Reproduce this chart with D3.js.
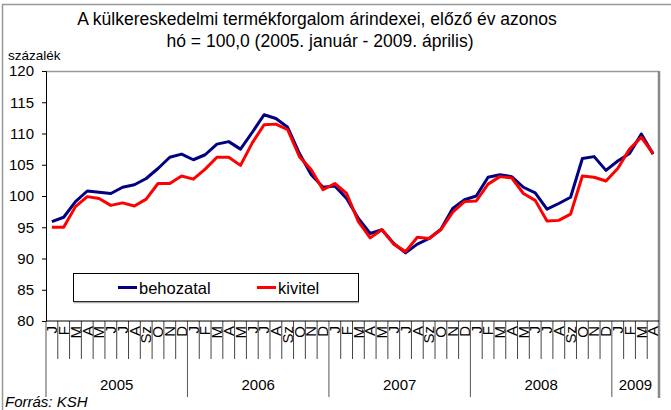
<!DOCTYPE html>
<html>
<head>
<meta charset="utf-8">
<script src="https://cdn.jsdelivr.net/npm/d3@7.9.0/dist/d3.min.js"></script>
<style>
  body { margin: 0; background: #fff; }
  svg { font-family: Arial, "Liberation Sans", sans-serif; }
</style>
</head>
<body>
<svg width="671" height="410"></svg>
<script>
// havi adatok, 2005. január - 2009. április
const years = ['2005', '2006', '2007', '2008', '2009'];
const monthLetters = ['J', 'F', 'M', 'Á', 'M', 'J', 'J', 'A', 'Sz', 'O', 'N', 'D'];
const behozatal = [
  95.9, 96.6, 99.1, 100.8, 100.6, 100.4, 101.4, 101.8, 102.8, 104.4, 106.2, 106.7,
  105.8, 106.6, 108.3, 108.7, 107.5, 110.2, 113.0, 112.4, 111.0, 106.8, 103.4, 101.4,
  101.6, 99.6, 96.4, 94.0, 94.6, 92.4, 90.9, 92.3, 93.2, 94.7, 98.0, 99.4,
  100.0, 103.0, 103.4, 103.1, 101.4, 100.5, 97.9, 98.8, 99.8, 106.0, 106.3, 104.1,
  105.6, 106.8, 109.9, 106.7
];
const kivitel = [
  95.0, 95.0, 98.3, 99.9, 99.6, 98.5, 98.9, 98.4, 99.5, 102.0, 102.0, 103.2,
  102.7, 104.3, 106.2, 106.2, 104.9, 108.5, 111.4, 111.5, 110.6, 106.3, 104.2, 101.0,
  102.0, 100.4, 95.9, 93.3, 94.6, 92.3, 91.1, 93.4, 93.2, 94.6, 97.4, 99.1,
  99.2, 101.9, 103.1, 102.9, 100.4, 99.3, 96.0, 96.1, 97.1, 103.2, 103.0, 102.4,
  104.4, 107.5, 109.4, 106.8
];
const yTicks = [80, 85, 90, 95, 100, 105, 110, 115, 120];

const svg = d3.select('svg');
const plotL = 46, plotR = 659, plotT = 71, plotB = 321;

const idx = d3.range(behozatal.length);
const x = d3.scaleBand().domain(idx).range([plotL, plotR]);
const y = d3.scaleLinear().domain([80, 120]).range([plotB, plotT]);

// külső keret
svg.append('rect')
  .attr('x', 2.5).attr('y', 4.5).attr('width', 700).attr('height', 450)
  .attr('fill', 'none').attr('stroke', '#999').attr('stroke-width', 1.5);

// cím
const title = svg.append('text')
  .attr('text-anchor', 'middle').attr('font-size', 17.5).attr('fill', '#000');
title.append('tspan').attr('x', 317).attr('y', 25)
  .text('A külkereskedelmi termékforgalom árindexei, előző év azonos');
title.append('tspan').attr('x', 320).attr('y', 47)
  .text('hó = 100,0 (2005. január - 2009. április)');

svg.append('text').attr('x', 8).attr('y', 60).attr('font-size', 13.5)
  .text('százalék');

// plot terület kerete
svg.append('line').attr('x1', plotL).attr('x2', plotR).attr('y1', plotT + 0.5).attr('y2', plotT + 0.5)
  .attr('stroke', '#999').attr('stroke-width', 1.5);
svg.append('line').attr('x1', plotR).attr('x2', plotR).attr('y1', plotT).attr('y2', 398)
  .attr('stroke', '#888').attr('stroke-width', 2.5);

// y tengely
const yAxis = svg.append('g')
  .attr('transform', `translate(${plotL},0)`)
  .call(d3.axisLeft(y).tickValues(yTicks).tickSize(4).tickPadding(8));
yAxis.select('.domain').attr('stroke', '#000');
yAxis.selectAll('text').attr('font-size', 15).attr('font-family', 'Arial, "Liberation Sans", sans-serif').attr('fill', '#000');

// x tengely: hónapok
const xAxis = svg.append('g')
  .attr('transform', `translate(0,${plotB})`)
  .call(d3.axisBottom(x).tickSize(0).tickFormat(i => monthLetters[i % 12]));
xAxis.select('.domain').remove();
xAxis.selectAll('text')
  .attr('font-size', 15).attr('font-family', 'Arial, "Liberation Sans", sans-serif').attr('fill', '#000')
  .attr('text-anchor', 'end')
  .attr('y', 0).attr('dy', '0.35em')
  .attr('transform', 'translate(0,5) rotate(-90)');

// hónap elválasztók
svg.append('g').selectAll('line')
  .data(idx.filter(i => i % 12 !== 0))
  .join('line')
  .attr('x1', i => x(i)).attr('x2', i => x(i))
  .attr('y1', plotB).attr('y2', 359)
  .attr('stroke', '#444').attr('stroke-width', 1);

// év elválasztók
svg.append('g').selectAll('line')
  .data(idx.filter(i => i % 12 === 0))
  .join('line')
  .attr('x1', i => x(i)).attr('x2', i => x(i))
  .attr('y1', plotB).attr('y2', 397)
  .attr('stroke', '#555').attr('stroke-width', 1);

svg.append('line').attr('x1', plotL).attr('x2', plotR).attr('y1', plotB).attr('y2', plotB)
  .attr('stroke', '#000').attr('stroke-width', 1);

// év feliratok
svg.append('g').selectAll('text')
  .data(years)
  .join('text')
  .attr('x', (d, k) => {
    const first = k * 12;
    const last = Math.min(first + 11, idx.length - 1);
    return (x(first) + x(last) + x.bandwidth()) / 2;
  })
  .attr('y', 390)
  .attr('text-anchor', 'middle').attr('font-size', 15)
  .text(d => d);

// vonalak
const line = d3.line()
  .x((d, i) => x(i) + x.bandwidth() / 2)
  .y(d => y(d));

svg.append('path').datum(behozatal)
  .attr('d', line).attr('fill', 'none')
  .attr('stroke', '#000080').attr('stroke-width', 3).attr('stroke-linejoin', 'round');
svg.append('path').datum(kivitel)
  .attr('d', line).attr('fill', 'none')
  .attr('stroke', '#ff0000').attr('stroke-width', 3).attr('stroke-linejoin', 'round');

// jelmagyarázat
const lg = svg.append('g');
lg.append('rect').attr('x', 73.5).attr('y', 273.5).attr('width', 285).attr('height', 28)
  .attr('fill', '#fff').attr('stroke', '#000').attr('stroke-width', 1);
lg.append('line').attr('x1', 74).attr('x2', 359).attr('y1', 302.5).attr('y2', 302.5)
  .attr('stroke', '#aaa').attr('stroke-width', 1.5);
const legendItems = [
  { name: 'behozatal', color: '#000080', x: 118 },
  { name: 'kivitel', color: '#ff0000', x: 257 }
];
legendItems.forEach(d => {
  lg.append('line').attr('x1', d.x).attr('x2', d.x + 19).attr('y1', 287.5).attr('y2', 287.5)
    .attr('stroke', d.color).attr('stroke-width', 3);
  lg.append('text').attr('x', d.x + 21).attr('y', 293.5).attr('font-size', 16.5)
    .text(d.name);
});

// forrás
svg.append('text').attr('x', 5).attr('y', 407).attr('font-size', 15)
  .attr('font-style', 'italic').text('Forrás: KSH');
</script>
</body>
</html>
